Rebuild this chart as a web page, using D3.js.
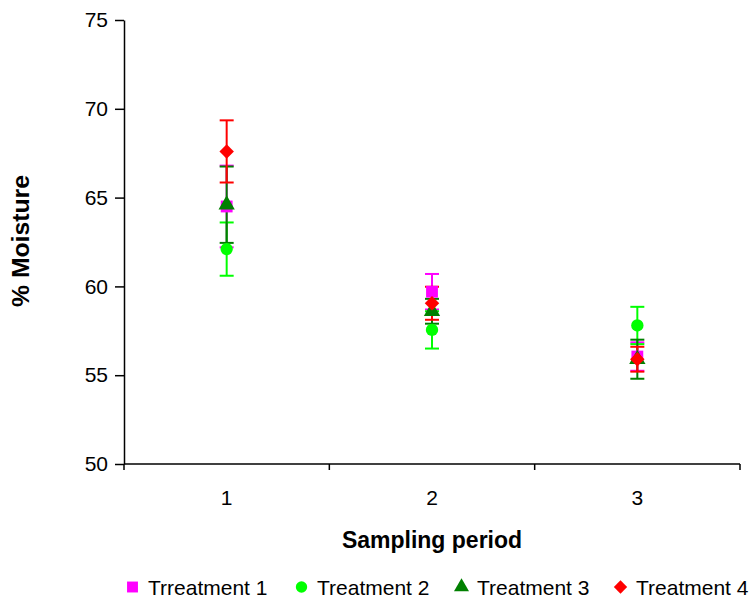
<!DOCTYPE html>
<html>
<head>
<meta charset="utf-8">
<script src="https://cdn.jsdelivr.net/npm/d3@7"></script>
<style>
  html, body { margin: 0; padding: 0; background: #fff; }
  svg { display: block; font-family: "Liberation Sans", Arial, sans-serif; }
</style>
</head>
<body>
<svg id="chart" width="751" height="600"></svg>
<script>
// ---- data ----
const periods = ["1", "2", "3"];
const seriesNames = ["Trreatment 1", "Treatment 2", "Treatment 3", "Treatment 4"];
const t1Values = [64.5, 59.7, 56.05];
const t1Errors = [2.3, 1.0, 0.8];
const t2Values = [62.1, 57.55, 57.8];
const t2Errors = [1.5, 1.05, 1.05];
const t3Values = [64.6, 58.6, 55.9];
const t3Errors = [2.15, 0.7, 1.1];
const t4Values = [67.6, 59.05, 55.9];
const t4Errors = [1.75, 0.93, 0.7];
const yTicks = [50, 55, 60, 65, 70, 75];

const colors = ["#FF00FF", "#00FF00", "#008000", "#FF0000"];
// Excel-style diamond: a square rotated by 45 degrees
const symbolExcelDiamond = {
  draw(ctx, size) {
    const r = Math.sqrt(size / 2);
    ctx.moveTo(0, -r); ctx.lineTo(r, 0); ctx.lineTo(0, r); ctx.lineTo(-r, 0); ctx.closePath();
  }
};
const symbols = [d3.symbolSquare, d3.symbolCircle, d3.symbolTriangle, symbolExcelDiamond];
const symSizes = [140, 120, 115, 105];

const series = seriesNames.map((name, i) => ({
  name,
  color: colors[i],
  symbol: symbols[i],
  size: symSizes[i],
  values: [t1Values, t2Values, t3Values, t4Values][i],
  errors: [t1Errors, t2Errors, t3Errors, t4Errors][i]
}));

const svg = d3.select("#chart");
const plotLeft = 124, plotRight = 740, plotTop = 20, plotBottom = 464;

const x = d3.scaleBand().domain(periods).range([plotLeft, plotRight]);
const y = d3.scaleLinear().domain([50, 75]).range([plotBottom, plotTop]);

// y axis
const yAxis = svg.append("g").attr("transform", `translate(${plotLeft},0)`)
  .call(d3.axisLeft(y).tickValues(yTicks).tickSize(9).tickPadding(7).tickSizeOuter(0));
yAxis.select(".domain").attr("stroke", "#000").attr("stroke-width", 1.5);
yAxis.selectAll(".tick line").attr("stroke", "#000").attr("stroke-width", 1.5);
yAxis.selectAll(".tick text").attr("font-size", 21).attr("fill", "#000")
  .attr("font-family", "Liberation Sans, Arial, sans-serif");

// x axis
const xAxisG = svg.append("g").attr("transform", `translate(0,${plotBottom})`);
xAxisG.append("line").attr("x1", plotLeft).attr("x2", plotRight).attr("y1", 0).attr("y2", 0)
  .attr("stroke", "#000").attr("stroke-width", 1.5);
const bounds = periods.map(p => x(p)).concat([x(periods[periods.length - 1]) + x.bandwidth()]);
xAxisG.selectAll("line.tk").data(bounds).enter().append("line").attr("class", "tk")
  .attr("x1", d => d).attr("x2", d => d).attr("y1", 0).attr("y2", 6)
  .attr("stroke", "#000").attr("stroke-width", 1.5);
xAxisG.selectAll("text.tl").data(periods).enter().append("text").attr("class", "tl")
  .attr("x", d => x(d) + x.bandwidth() / 2).attr("y", 41)
  .attr("text-anchor", "middle").attr("font-size", 21).attr("fill", "#000")
  .text(d => d);

// axis titles
svg.append("text").attr("x", (plotLeft + plotRight) / 2).attr("y", 548)
  .attr("text-anchor", "middle").attr("font-size", 23).attr("font-weight", "bold")
  .text("Sampling period");
svg.append("text").attr("transform", "translate(29,241) rotate(-90)")
  .attr("text-anchor", "middle").attr("font-size", 23).attr("font-weight", "bold")
  .attr("textLength", 132).attr("lengthAdjust", "spacingAndGlyphs")
  .text("% Moisture");

// error bars (all series first)
const capHalf = 7;
series.forEach(s => {
  const g = svg.append("g");
  periods.forEach((p, i) => {
    const cx = x(p) + x.bandwidth() / 2;
    const hi = y(s.values[i] + s.errors[i]);
    const lo = y(s.values[i] - s.errors[i]);
    g.append("line").attr("x1", cx).attr("x2", cx).attr("y1", hi).attr("y2", lo)
      .attr("stroke", s.color).attr("stroke-width", 2);
    [hi, lo].forEach(yy => g.append("line").attr("x1", cx - capHalf).attr("x2", cx + capHalf)
      .attr("y1", yy).attr("y2", yy).attr("stroke", s.color).attr("stroke-width", 2));
  });
});

// markers
series.forEach(s => {
  svg.append("g").selectAll("path").data(s.values).enter().append("path")
    .attr("d", d3.symbol().type(s.symbol).size(s.size))
    .attr("transform", (d, i) => `translate(${x(periods[i]) + x.bandwidth() / 2},${y(d)})`)
    .attr("fill", s.color);
});

// legend
const legendX = [127, 296, 456, 615];
const lg = svg.append("g").attr("transform", "translate(0,587)");
series.forEach((s, i) => {
  const lx = legendX[i];
  lg.append("path").attr("d", d3.symbol().type(s.symbol).size(s.size * 0.85))
    .attr("transform", `translate(${lx + 5.5},0)`).attr("fill", s.color);
  lg.append("text").attr("x", lx + 21).attr("y", 8)
    .attr("font-size", 21).attr("fill", "#000").text(s.name);
});
</script>
</body>
</html>
